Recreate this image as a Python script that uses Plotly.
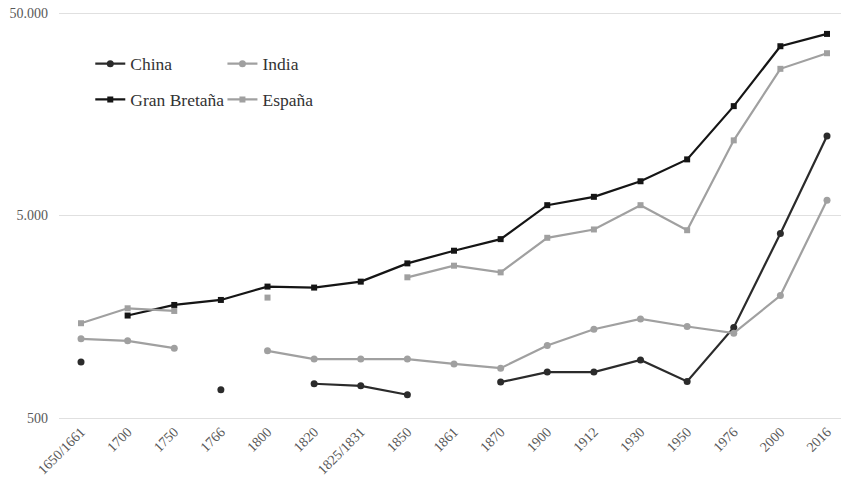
import plotly.graph_objects as go

# Periods on the horizontal axis
periods = ["1650/1661", "1700", "1750", "1766", "1800", "1820", "1825/1831",
           "1850", "1861", "1870", "1900", "1912", "1930", "1950", "1976",
           "2000", "2016"]

# Per-capita values (None = no observation)
china = [944, None, None, 689, None, 738, 721, 651, None, 752, 843, 843,
         968, 758, 1399, 4075, 12350]
india = [1230, 1202, 1106, None, 1073, 977, 977, 977, 925, 881, 1141, 1372,
         1543, 1415, 1312, 2011, 5945]
gran_bretana = [None, 1603, 1808, 1914, 2228, 2203, 2357, 2901, 3350, 3822,
                5623, 6183, 7380, 9465, 17340, 34270, 39420]
espana = [1469, 1741, 1689, None, 1966, None, None, 2476, 2826, 2619, 3880,
          4266, 5623, 4230, 11750, 26500, 31650]

y_ticks = [500, 5000, 50000]
y_tick_text = ["500", "5.000", "50.000"]

DARK = "#2b2b2b"
BLACK = "#151515"
GRAY = "#a0a0a0"
FONT = "Liberation Serif"

series = [
    ("China", china, DARK, "circle", 7, "legend", "g1"),
    ("India", india, GRAY, "circle", 7, "legend2", "g3"),
    ("Gran Bretaña", gran_bretana, BLACK, "square", 6, "legend", "g2"),
    ("España", espana, GRAY, "square", 6, "legend2", "g4"),
]

fig = go.Figure()
for name, vals, color, symbol, msize, leg, grp in series:
    fig.add_trace(go.Scatter(
        x=periods, y=vals, name=name, mode="lines+markers",
        line=dict(color=color, width=2.2),
        marker=dict(color=color, symbol=symbol, size=msize),
        legend=leg, legendgroup=grp, connectgaps=False,
    ))

legend_style = dict(
    font=dict(family=FONT, size=17.5, color="#333333"),
    bgcolor="rgba(0,0,0,0)", yanchor="top", xanchor="left",
    tracegroupgap=10, orientation="v",
)

# log range padded by ~2px per side so the edge gridlines stay visible
pad = 2 / 202.5
fig.update_layout(
    width=841, height=480,
    margin=dict(l=59, r=0, t=11, b=60),
    paper_bgcolor="white", plot_bgcolor="white",
    font=dict(family=FONT, size=14, color="#595959"),
    showlegend=True,
    legend=dict(x=0.04, y=0.915, **legend_style),
    legend2=dict(x=0.209, y=0.915, **legend_style),
    xaxis=dict(
        type="category", categoryorder="array", categoryarray=periods,
        range=[-0.472, 16.30], tickangle=-45, showgrid=False,
        showline=False, zeroline=False, ticks="",
        tickfont=dict(family=FONT, size=14, color="#595959"),
    ),
    yaxis=dict(
        type="log", range=[2.69897 - pad, 4.69897 + pad],
        tickvals=y_ticks, ticktext=y_tick_text,
        showgrid=True, gridcolor="#e0e0e0", gridwidth=1,
        zeroline=False, showline=False, ticks="",
        ticklabelstandoff=10,
        tickfont=dict(family=FONT, size=14, color="#595959"),
    ),
)

fig.write_html("out.html")
